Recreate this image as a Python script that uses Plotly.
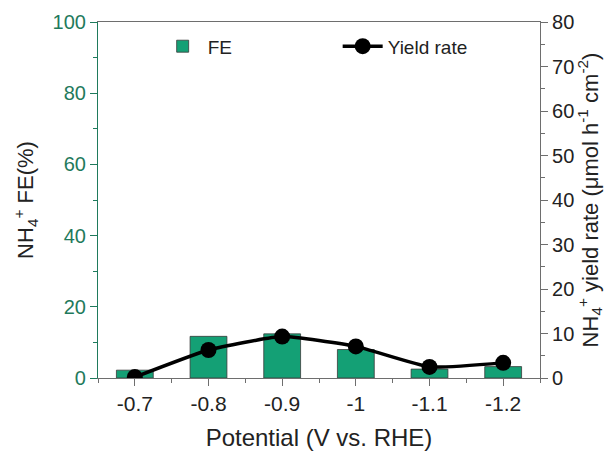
import plotly.graph_objects as go

# Potentials (V vs. RHE) and measured values
potentials = ["-0.7", "-0.8", "-0.9", "-1", "-1.1", "-1.2"]
fe_percent = [2.2, 11.7, 12.4, 8.0, 2.5, 3.2]
yield_rate = [0.2, 6.3, 9.3, 7.1, 2.5, 3.4]

x_pos = list(range(len(potentials)))

GREEN_BAR = "#14a075"
GREEN_AXIS = "#1f7a5c"
GRAY = "#6e6e6e"
FONT = "Liberation Sans, Arial, sans-serif"

fig = go.Figure()

fig.add_trace(go.Bar(
    x=x_pos, y=fe_percent, name="FE", width=0.5,
    marker=dict(color=GREEN_BAR, line=dict(color="#3a3a3a", width=0.8)),
    yaxis="y",
))

fig.add_trace(go.Scatter(
    x=x_pos, y=yield_rate, name="Yield rate", mode="lines+markers",
    line=dict(color="black", width=3.5, shape="spline", smoothing=0.45),
    marker=dict(color="black", size=16),
    yaxis="y2",
))

fig.update_layout(
    width=614, height=452,
    margin=dict(l=98, r=74, t=22, b=74),
    plot_bgcolor="white", paper_bgcolor="white",
    font=dict(family=FONT, size=20, color="#222222"),
    showlegend=True,
    legend=dict(
        orientation="h", x=0.135, y=0.985, xanchor="left", yanchor="top",
        entrywidth=125, entrywidthmode="pixels",
        font=dict(size=19, color="#222222"), bgcolor="rgba(0,0,0,0)",
        itemwidth=40,
    ),
    xaxis=dict(
        range=[-0.5, 5.5], tickmode="array", tickvals=x_pos, ticktext=potentials,
        showline=True, linecolor=GRAY, linewidth=1.2, mirror=True,
        ticks="outside", ticklen=7, tickcolor=GRAY, tickwidth=1.2,
        minor=dict(tick0=0.5, dtick=1, ticks="outside", ticklen=4, tickcolor=GRAY),
        showgrid=False, zeroline=False, automargin=False,
        tickfont=dict(size=21, color="#222222"),
        title=dict(text="Potential (V vs. RHE)", font=dict(size=24), standoff=14),
    ),
    yaxis=dict(
        range=[0, 100], dtick=20, showline=True, linecolor=GREEN_AXIS, linewidth=1.2,
        ticks="outside", ticklen=7, tickcolor=GREEN_AXIS, tickwidth=1.2,
        minor=dict(dtick=10, ticks="outside", ticklen=4, tickcolor=GREEN_AXIS),
        showgrid=False, zeroline=False, automargin=False,
        tickfont=dict(size=20, color=GREEN_AXIS),
        title=dict(text="NH<sub>4</sub><sup>+</sup> FE(%)", font=dict(size=22, color="#222222"), standoff=12),
    ),
    yaxis2=dict(
        range=[0, 80], dtick=10, overlaying="y", side="right",
        showline=True, linecolor=GRAY, linewidth=1.2,
        ticks="outside", ticklen=7, tickcolor=GRAY, tickwidth=1.2,
        minor=dict(dtick=5, ticks="outside", ticklen=4, tickcolor=GRAY),
        showgrid=False, zeroline=False, automargin=False,
        tickfont=dict(size=20, color="#222222"),
        title=dict(text="NH<sub>4</sub><sup>+</sup> yield rate (\u03bcmol h<sup>-1</sup> cm<sup>-2</sup>)",
                   font=dict(size=22, color="#222222"), standoff=6),
    ),
)

fig.write_html("out.html")
